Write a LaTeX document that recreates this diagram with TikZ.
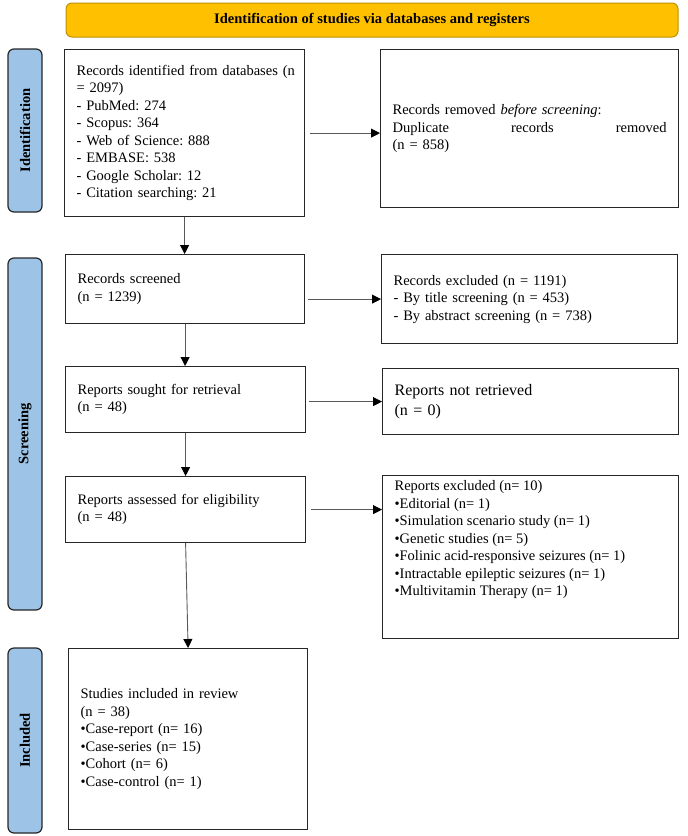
\documentclass[tikz,border=0pt]{standalone}
\usepackage{fontspec}
\setmainfont{Liberation Serif}
\usepackage{xcolor}
\usepackage{tikz}
\usetikzlibrary{arrows.meta}
\definecolor{headfill}{HTML}{FFC000}
\definecolor{headline}{HTML}{BF9000}
\definecolor{phasefill}{HTML}{9DC3E6}
\frenchspacing

\begin{document}
\begin{tikzpicture}[
    x=1pt, y=-1pt,
    font=\fontsize{14.5}{17.5}\selectfont,
    box/.style={
      draw=black!85,
      line width=1.2pt,
      anchor=north west,
      align=left,
      inner xsep=12pt,
      inner ysep=0pt
    },
    phase/.style={
      draw=black!85,
      line width=1.2pt,
      rounded corners=6pt,
      fill=phasefill,
      rotate=90,
      minimum height=34pt,
      inner sep=0pt,
      font=\fontsize{14.5}{17.5}\selectfont\bfseries
    },
    flow/.style={-{Triangle[length=9pt,width=9pt,color=black]}, draw=black!65, line width=0.9pt}
  ]
    \useasboundingbox (0,0) rectangle (688,836);
    \node[draw=headline, fill=headfill, line width=1pt, rounded corners=6pt,
      minimum width=612pt, minimum height=34pt,
      font=\fontsize{14.5}{17.5}\selectfont\bfseries] (head) at (372,20)
      {Identification of studies via databases and registers};
    % phases
    \node[phase, minimum width=163pt] (pident) at (25,130.5) {Identification};
    \node[phase, minimum width=352pt] (pscreen) at (25,434) {Screening};
    \node[phase, minimum width=185pt] (pinclude) at (25,740.5) {Included};
    % left column
    \node[box, text width=216pt, minimum width=240pt, minimum height=167pt] (identified) at (64,49) {
      \mbox{Records identified from databases (n}\\
      = 2097)\\
      - PubMed: 274\\
      - Scopus: 364\\
      - Web of Science: 888\\
      - EMBASE: 538\\
      - Google Scholar: 12\\
      - Citation searching: 21
    };
    \node[box, text width=215pt, minimum width=239pt, minimum height=69pt] (screened) at (65,254) {
      Records screened\\
      (n = 1239)
    };
    \node[box, text width=216pt, minimum width=240pt, minimum height=66pt] (sought) at (65,366) {
      Reports sought for retrieval\\
      (n = 48)
    };
    \node[box, text width=216pt, minimum width=240pt, minimum height=66pt] (assessed) at (65,476) {
      Reports assessed for eligibility\\
      (n = 48)
    };
    \node[box, text width=215pt, minimum width=239pt, minimum height=181pt] (included) at (68,648) {
      Studies included in review\\
      (n = 38)\\
      •Case-report (n= 16)\\
      •Case-series (n= 15)\\
      •Cohort (n= 6)\\
      •Case-control (n= 1)
    };
    % right column
    \node[box, text width=274pt, minimum width=298pt, minimum height=158pt] (removed) at (380,49) {
      Records removed \textit{before screening}:\\
      Duplicate\hfill records\hfill removed\\
      (n = 858)
    };
    \node[box, text width=272pt, minimum width=296pt, minimum height=89pt] (excluded) at (381,254) {
      Records excluded (n = 1191)\\
      - By title screening (n = 453)\\
      - By abstract screening (n = 738)
    };
    \node[box, text width=272pt, minimum width=296pt, minimum height=66pt,
      font=\fontsize{16}{20}\selectfont] (notretrieved) at (382,368) {
      Reports not retrieved\\
      (n = 0)
    };
    \node[box, align=none] (repexcluded) at (382,475) {\parbox[c][163pt][t]{272pt}{\vspace*{5pt}\raggedright
      Reports excluded (n= 10)\\
      •Editorial (n= 1)\\
      •Simulation scenario study (n= 1)\\
      •Genetic studies (n= 5)\\
      •Folinic acid-responsive seizures (n= 1)\\
      •Intractable epileptic seizures (n= 1)\\
      •Multivitamin Therapy (n= 1)}};
    % arrows
    \draw[flow] (identified.south) -- (identified.south |- screened.north);
    \draw[flow] (screened.south) -- (screened.south |- sought.north);
    \draw[flow] (sought.south) -- (sought.south |- assessed.north);
    \draw[flow] (assessed.south) -- (included.north);
    \draw[flow, shorten <=5pt] (identified.east) -- (identified.east -| removed.west);
    \draw[flow, shorten <=3pt] (screened.east |- excluded.west) -- (excluded.west);
    \draw[flow, shorten <=3pt] (sought.east |- notretrieved.west) -- (notretrieved.west);
    \draw[flow, shorten <=5pt] (assessed.east) -- (assessed.east -| repexcluded.west);
  \end{tikzpicture}
\end{document}
